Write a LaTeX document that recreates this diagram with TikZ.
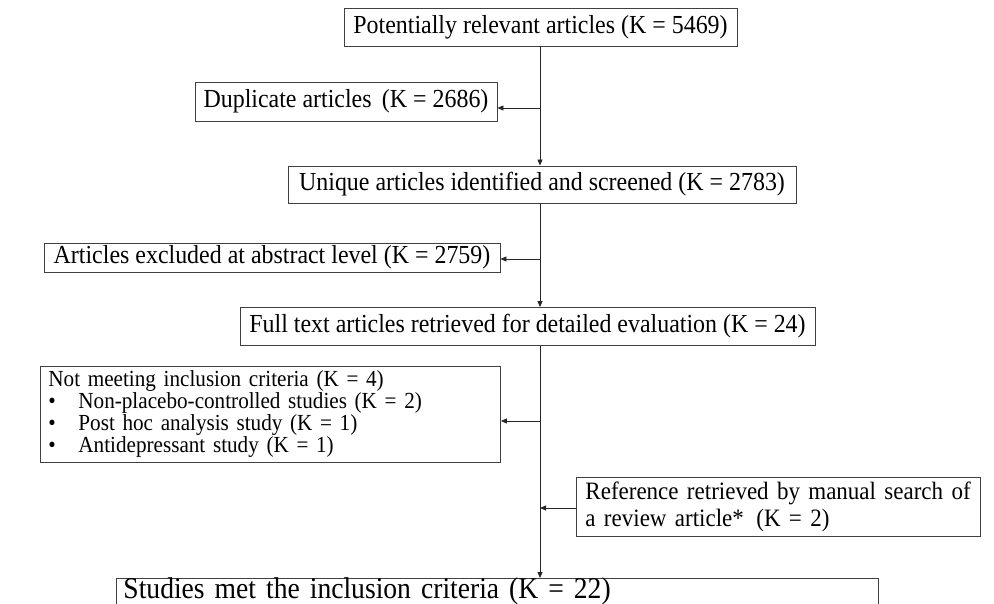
\documentclass[tikz,border=0pt]{standalone}
\usepackage{fontspec}
\setmainfont{Liberation Serif}[FakeStretch=0.92]
\usetikzlibrary{arrows.meta}
\begin{document}
\begin{tikzpicture}[x=1pt,y=-1pt,
  box/.style={draw=black!75, line width=0.9pt, inner sep=0pt, font=\fontsize{26}{28}\selectfont},
  conn/.style={draw=black!85, line width=0.9pt},
  arr/.style={conn, -{Triangle[length=6pt,width=5pt]}}]
\useasboundingbox[fill=white] (0,0) rectangle (994,604);
\node[box, minimum width=393pt, minimum height=38pt] (pot) at (540.5,27) {Potentially relevant articles (K = 5469)};
\node[box, minimum width=302pt, minimum height=39pt] (dup) at (346,101.5) {Duplicate articles\ \,(K = 2686)};
\node[box, minimum width=508pt, minimum height=37pt] (uni) at (542,184.5) {Unique articles identified and screened (K = 2783)};
\node[box, minimum width=456pt, minimum height=29pt] (exc) at (272,257.5) {Articles excluded at abstract level (K = 2759)};
\node[box, minimum width=575pt, minimum height=38pt] (ful) at (527.5,326.5) {Full text articles retrieved for detailed evaluation (K = 24)};
\node[box, minimum width=460pt, minimum height=96pt, anchor=north west, align=left, text width=444pt, inner xsep=8pt, font=\fontsize{23}{22}\selectfont] (not) at (40,366) {Not meeting inclusion criteria (K = 4)\\
\makebox[30pt][l]{•}Non-placebo-controlled studies (K = 2)\\
\makebox[30pt][l]{•}Post hoc analysis study (K = 1)\\
\makebox[30pt][l]{•}Antidepressant study (K = 1)};
\node[box, minimum width=404pt, minimum height=59pt, anchor=north west, align=left, text width=386pt, inner xsep=9pt, font=\fontsize{25}{27}\selectfont] (ref) at (576,477) {Reference retrieved by manual search of\\ a review article*\ \,(K = 2)};
\node[box, minimum width=762pt, anchor=north west, align=left, text width=748pt, inner xsep=7pt, text height=20pt, text depth=30pt, font=\fontsize{30}{32}\selectfont] (stu) at (116,578) {Studies met the inclusion criteria (K = 22)};
\coordinate (j1) at (540,108);
\coordinate (j2) at (540,259);
\coordinate (j3) at (540,421);
\coordinate (j4) at (540,508);
\draw[arr] (pot.south -| j1) -- (uni.north -| j1);
\draw[arr] (j1) -- (dup.east |- j1);
\draw[arr] (uni.south -| j1) -- (ful.north -| j1);
\draw[arr] (j2) -- (exc.east |- j2);
\draw[arr] (ful.south -| j1) -- (stu.north -| j1);
\draw[arr] (j3) -- (not.east |- j3);
\draw[arr] (ref.west |- j4) -- (j4);
\end{tikzpicture}
\end{document}
